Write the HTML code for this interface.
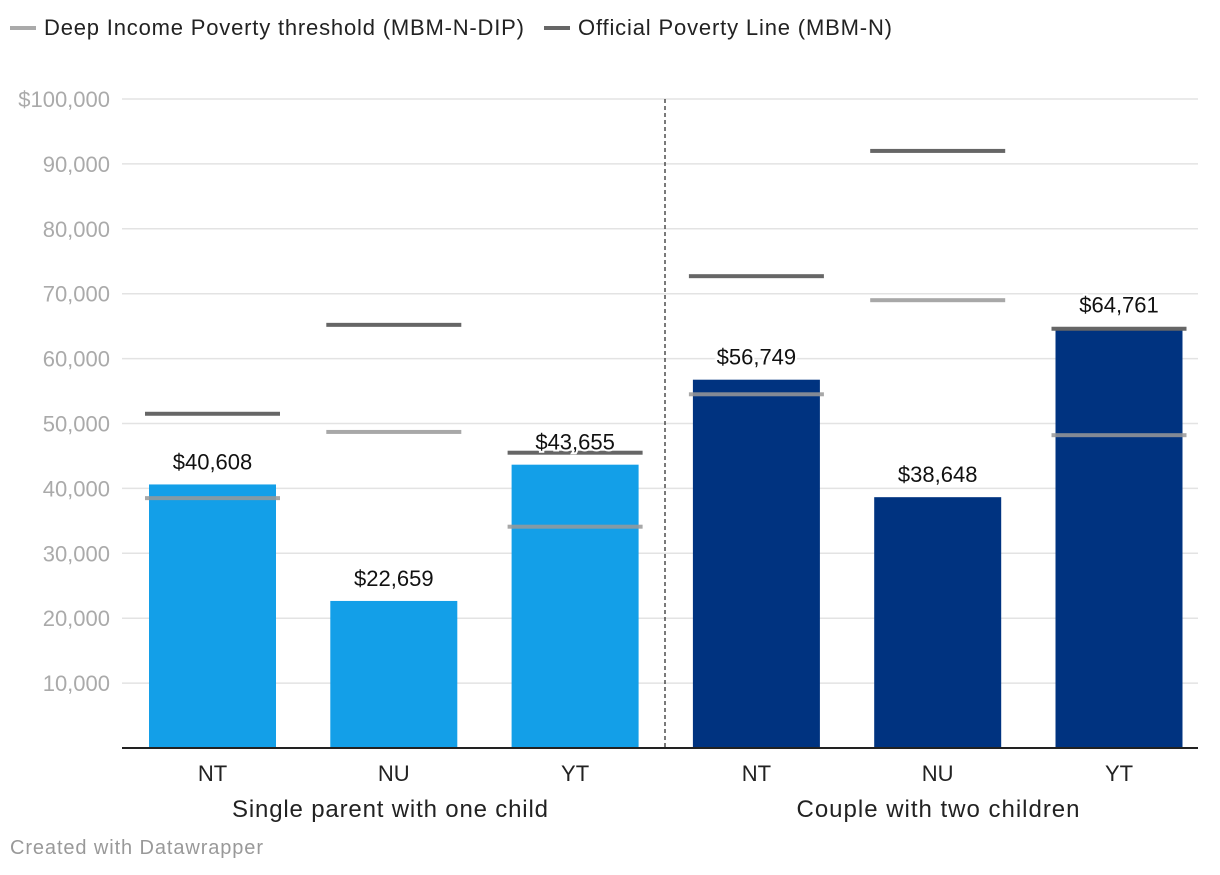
<!DOCTYPE html>
<html><head><meta charset="utf-8"><style>
body{margin:0;background:#fff;font-family:"Liberation Sans",Roboto,sans-serif}
svg text{font-family:"Liberation Sans",sans-serif}
</style></head><body>
<svg id="c" width="1220" height="870">
<g>
<g><rect x="10" y="26" width="26" height="4" fill="#aaa"/><text x="44" y="35" font-size="22" fill="#222" textLength="480">Deep Income Poverty threshold (MBM-N-DIP)</text></g>
<g><rect x="544" y="26" width="26" height="4" fill="#666"/><text x="578" y="35" font-size="22" fill="#222" textLength="314">Official Poverty Line (MBM-N)</text></g>
</g>
<g id="grid"></g>
<g id="bars"></g>
<line x1="665" y1="99" x2="665" y2="748" stroke="#333" stroke-width="1.3" stroke-dasharray="4,3"/>
<line x1="122" y1="748" x2="1198" y2="748" stroke="#222" stroke-width="2"/>
<text x="390" y="817" font-size="24" text-anchor="middle" fill="#222" textLength="316">Single parent with one child</text>
<text x="938" y="817" font-size="24" text-anchor="middle" fill="#222" textLength="283">Couple with two children</text>
<text x="10" y="854" font-size="20" fill="#999" textLength="253">Created with Datawrapper</text>
</svg>
<script>
const categories=["NT","NU","YT","NT","NU","YT"];
const incomes=[40608,22659,43655,56749,38648,64761];
const official=[51500,65200,45500,72700,92000,64600];
const deep=[38500,48700,34100,54500,69000,48200];
const ticks=[10000,20000,30000,40000,50000,60000,70000,80000,90000,100000];
const ns="http://www.w3.org/2000/svg";
const y=v=>748-v*649/100000;
const x=i=>149+i*181.3;
const bw=127;
function mk(t,a,p){const e=document.createElementNS(ns,t);for(const k in a)e.setAttribute(k,a[k]);p.appendChild(e);return e;}
const g=document.getElementById('grid'),b=document.getElementById('bars');
ticks.forEach(t=>{
 const l=mk('line',{x1:122,x2:1198,y1:y(t),y2:y(t),stroke:'#e3e3e3','stroke-width':1.5},g);
 
 
 const tx=mk('text',{x:110,y:y(t)+8,'font-size':22,fill:'#aaa','text-anchor':'end'},g);
 tx.textContent=(t===100000?'$':'')+t.toLocaleString('en-US');
 
 
});
incomes.forEach((v,i)=>{
 const r=mk('rect',{x:x(i),y:y(v),width:bw,height:748-y(v),fill:i<3?'#139fe8':'#003380'},b);
 
 
 const d=mk('rect',{x:x(i)-4,y:y(deep[i])-2,width:bw+8,height:4,fill:'#999','fill-opacity':0.85},b);
 
 
 const o=mk('rect',{x:x(i)-4,y:y(official[i])-2,width:bw+8,height:4,fill:'#666'},b);
 
 
 const t=mk('text',{x:x(i)+bw/2,y:y(v)-15,'font-size':22,fill:'#111','text-anchor':'middle',stroke:'#fff','stroke-width':4,'paint-order':'stroke'},b);
 t.textContent='$'+v.toLocaleString('en-US');
 
 
 const c=mk('text',{x:x(i)+bw/2,y:781,'font-size':22,fill:'#222','text-anchor':'middle'},b);
 c.textContent=categories[i];
 
 
});
</script>
</body></html>
